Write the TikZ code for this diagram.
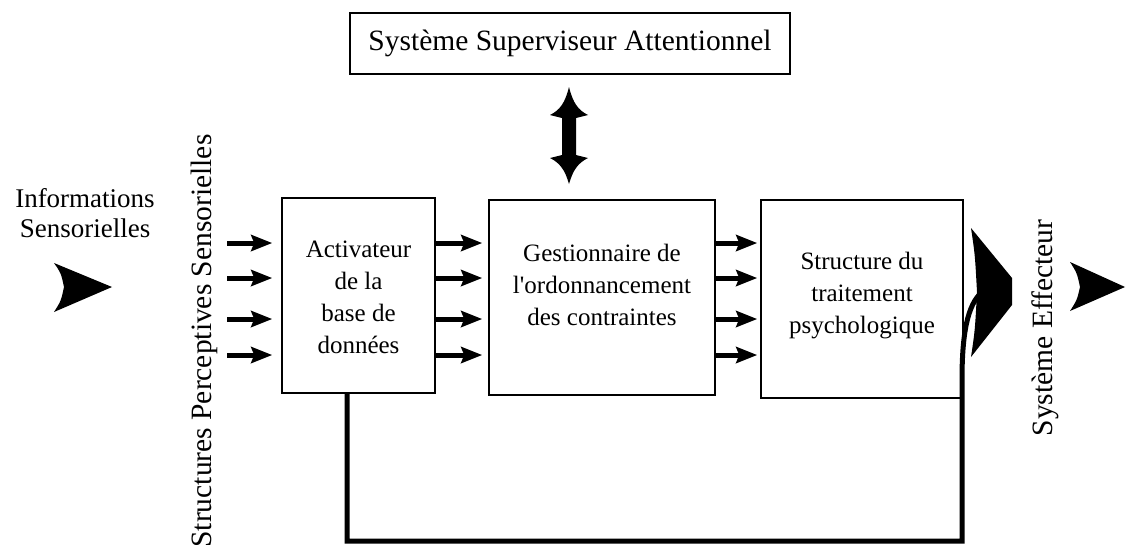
\documentclass[tikz,border=0pt]{standalone}
\usepackage{fontspec}
\setmainfont{Liberation Serif}
\usetikzlibrary{arrows.meta}
\begin{document}
\begin{tikzpicture}[x=1pt,y=-1pt,
  box/.style={draw, line width=1.5pt, inner sep=0pt},
  boxtext/.style={align=center, font=\fontsize{25}{32}\selectfont},
  bigtext/.style={font=\fontsize{29.5}{34}\selectfont},
  sarrow/.style={line width=5pt, -{Stealth[length=21pt,width=16pt,inset=3pt]}},
  feedback/.style={line width=5pt, line join=miter},
]
\useasboundingbox (0,0) rectangle (1126,549);

% supervisory system
\node[box, minimum width=440pt, minimum height=61pt, bigtext] (ssa) at (570,43.5)
  {Système Superviseur Attentionnel};

% the three processing blocks
\node[box, minimum width=153pt, minimum height=195pt] (b1) at (358.5,295.5) {};
\node[box, minimum width=226pt, minimum height=195pt] (b2) at (602,297.5) {};
\node[box, minimum width=202pt, minimum height=198pt] (b3) at (862,299) {};
\node[boxtext] (t1) at (358.5,297) {Activateur\\de la\\base de\\données};
\node[boxtext] (t2) at (602,285) {Gestionnaire de\\l\textquotesingle ordonnancement\\des contraintes};
\node[boxtext] (t3) at (862,296) {Structure du\\traitement\\psychologique};

% side labels
\node[align=center, font=\fontsize{27}{30}\selectfont] (info) at (85,213)
  {Informations\\Sensorielles};
\node[bigtext, rotate=90] (sps) at (204,341) {Structures Perceptives Sensorielles};
\node[bigtext, rotate=90] (eff) at (1045,328) {Système Effecteur};

% input / output arrowheads
\fill (54,263) -- (112,287) -- (54,312) .. controls (61,301) .. (64,287)
  .. controls (61,273) .. (54,263) -- cycle;
\fill (1070,262) -- (1125,287) -- (1070,311) .. controls (1077,300) .. (1080,287)
  .. controls (1077,273) .. (1070,262) -- cycle;

% two-way link with the supervisory system
\fill (569,87) .. controls (573,103) and (578,110) .. (588,115) -- (576,118) -- (576,155)
  -- (588,158) .. controls (578,163) and (573,170) .. (569,184)
  .. controls (565,170) and (560,163) .. (550,158) -- (562,155) -- (562,118)
  -- (550,115) .. controls (560,110) and (565,103) .. (569,87) -- cycle;

% parallel flows
\foreach \y [count=\i] in {243,278,319,355} {
  \coordinate (row\i) at (0,\y);
  \coordinate (in\i) at (227,\y);
  \draw[sarrow, shorten >=9pt] (in\i) -- (b1.west |- row\i);
  \draw[sarrow, shorten >=6pt] (b1.east |- row\i) -- (b2.west |- row\i);
  \draw[sarrow, shorten >=3pt] (b2.east |- row\i) -- (b3.west |- row\i);
}

% feedback loop into the output
\coordinate (fb1) at (347,541);
\coordinate (fb2) at (962,541);
\coordinate (fb3) at (962,380);
\coordinate (fbend) at (982,292);
\draw[feedback] (b1.south -| fb1) -- (fb1) -- (fb2) -- (fb3)
  .. controls (962,335) and (967,305) .. (fbend);
\fill (971,228) -- (1012,278) -- (1012,305) -- (971,357)
  .. controls (975,330) .. (977,292) .. controls (975,255) .. (971,228) -- cycle;
\end{tikzpicture}
\end{document}
